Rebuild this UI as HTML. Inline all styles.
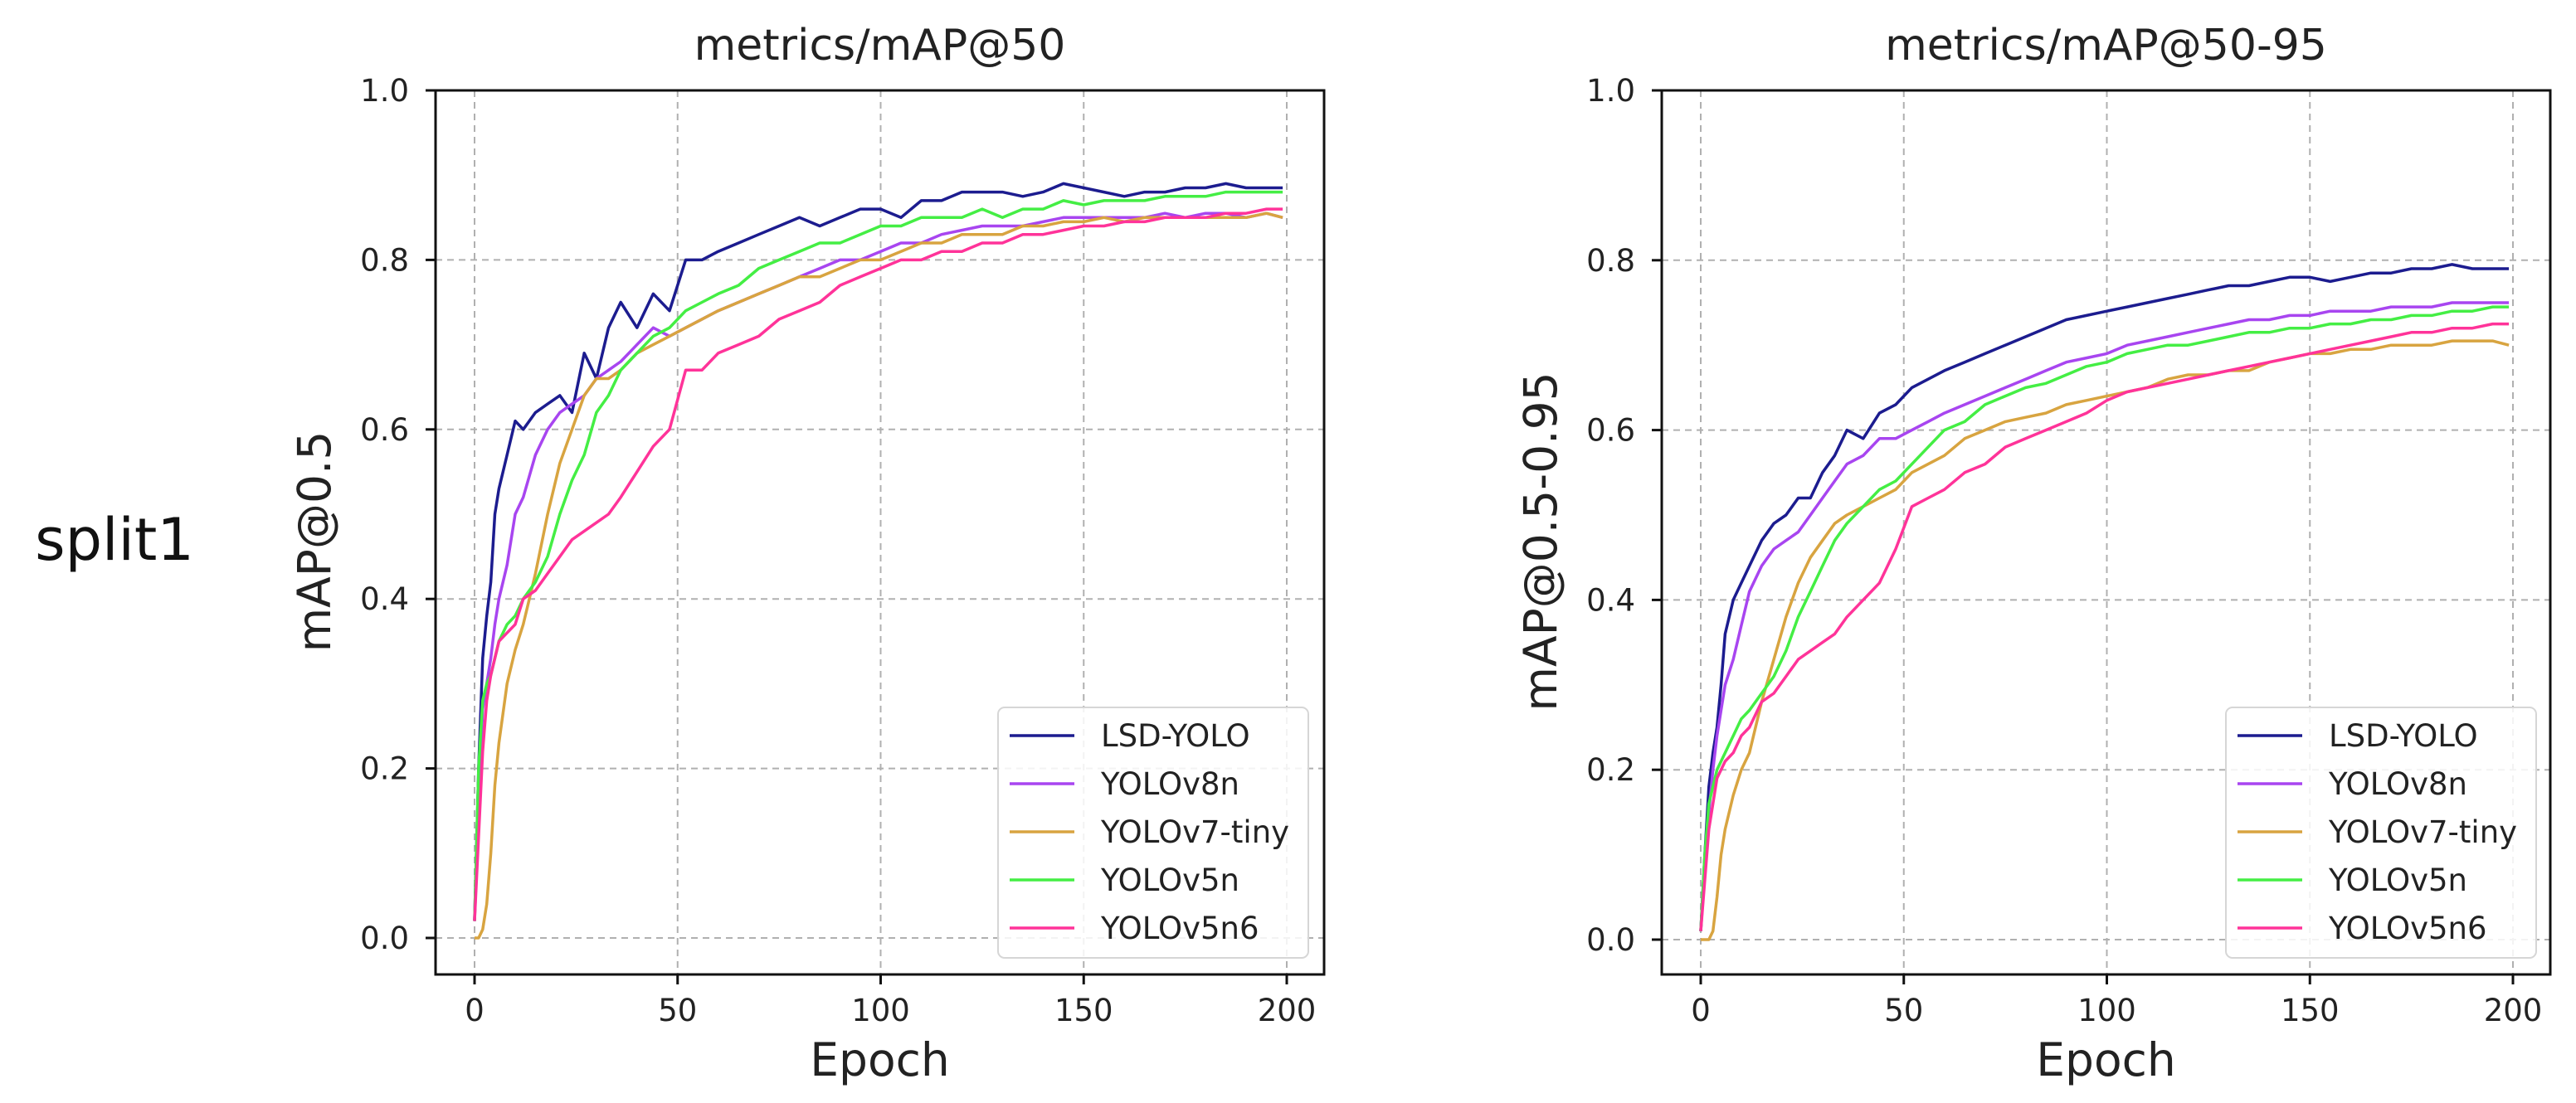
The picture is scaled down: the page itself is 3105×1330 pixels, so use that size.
<!DOCTYPE html>
<html><head><meta charset="utf-8">
<style>
html,body{margin:0;padding:0;background:#fff;}
svg{display:block;font-family:"DejaVu Sans","Liberation Sans",sans-serif;}
</style></head>
<body>
<svg id="fig" width="3105" height="1330" viewBox="0 0 3105 1330" xmlns="http://www.w3.org/2000/svg">
<text x="138" y="675" font-size="70" text-anchor="middle" fill="#111">split1</text>
</svg>
<script>
const epochs=[0,1,2,3,4,5,6,8,10,12,15,18,21,24,27,30,33,36,40,44,48,52,56,60,65,70,75,80,85,90,95,100,105,110,115,120,125,130,135,140,145,150,155,160,165,170,175,180,185,190,195,199];
const seriesNames=["LSD-YOLO","YOLOv8n","YOLOv7-tiny","YOLOv5n","YOLOv5n6"];
const xTicks=[0,50,100,150,200];
const yTicks=[0.0,0.2,0.4,0.6,0.8,1.0];
const map50_lsd=[0.02,0.2,0.33,0.38,0.42,0.5,0.53,0.57,0.61,0.6,0.62,0.63,0.64,0.62,0.69,0.66,0.72,0.75,0.72,0.76,0.74,0.8,0.8,0.81,0.82,0.83,0.84,0.85,0.84,0.85,0.86,0.86,0.85,0.87,0.87,0.88,0.88,0.88,0.875,0.88,0.89,0.885,0.88,0.875,0.88,0.88,0.885,0.885,0.89,0.885,0.885,0.885];
const map50_v8=[0.02,0.15,0.27,0.3,0.33,0.37,0.4,0.44,0.5,0.52,0.57,0.6,0.62,0.63,0.64,0.66,0.67,0.68,0.7,0.72,0.71,0.72,0.73,0.74,0.75,0.76,0.77,0.78,0.79,0.8,0.8,0.81,0.82,0.82,0.83,0.835,0.84,0.84,0.84,0.845,0.85,0.85,0.85,0.85,0.85,0.855,0.85,0.855,0.855,0.85,0.855,0.85];
const map50_v7=[0,0,0.01,0.04,0.1,0.18,0.23,0.3,0.34,0.37,0.43,0.5,0.56,0.6,0.64,0.66,0.66,0.67,0.69,0.7,0.71,0.72,0.73,0.74,0.75,0.76,0.77,0.78,0.78,0.79,0.8,0.8,0.81,0.82,0.82,0.83,0.83,0.83,0.84,0.84,0.845,0.845,0.85,0.845,0.85,0.85,0.85,0.85,0.85,0.85,0.855,0.85];
const map50_v5=[0.02,0.2,0.28,0.3,0.31,0.33,0.35,0.37,0.38,0.4,0.42,0.45,0.5,0.54,0.57,0.62,0.64,0.67,0.69,0.71,0.72,0.74,0.75,0.76,0.77,0.79,0.8,0.81,0.82,0.82,0.83,0.84,0.84,0.85,0.85,0.85,0.86,0.85,0.86,0.86,0.87,0.865,0.87,0.87,0.87,0.875,0.875,0.875,0.88,0.88,0.88,0.88];
const map50_v5n6=[0.02,0.12,0.22,0.28,0.31,0.33,0.35,0.36,0.37,0.4,0.41,0.43,0.45,0.47,0.48,0.49,0.5,0.52,0.55,0.58,0.6,0.67,0.67,0.69,0.7,0.71,0.73,0.74,0.75,0.77,0.78,0.79,0.8,0.8,0.81,0.81,0.82,0.82,0.83,0.83,0.835,0.84,0.84,0.845,0.845,0.85,0.85,0.85,0.855,0.855,0.86,0.86];
const map95_lsd=[0.01,0.1,0.18,0.22,0.25,0.3,0.36,0.4,0.42,0.44,0.47,0.49,0.5,0.52,0.52,0.55,0.57,0.6,0.59,0.62,0.63,0.65,0.66,0.67,0.68,0.69,0.7,0.71,0.72,0.73,0.735,0.74,0.745,0.75,0.755,0.76,0.765,0.77,0.77,0.775,0.78,0.78,0.775,0.78,0.785,0.785,0.79,0.79,0.795,0.79,0.79,0.79];
const map95_v8=[0.01,0.08,0.15,0.2,0.24,0.27,0.3,0.33,0.37,0.41,0.44,0.46,0.47,0.48,0.5,0.52,0.54,0.56,0.57,0.59,0.59,0.6,0.61,0.62,0.63,0.64,0.65,0.66,0.67,0.68,0.685,0.69,0.7,0.705,0.71,0.715,0.72,0.725,0.73,0.73,0.735,0.735,0.74,0.74,0.74,0.745,0.745,0.745,0.75,0.75,0.75,0.75];
const map95_v7=[0,0,0,0.01,0.05,0.1,0.13,0.17,0.2,0.22,0.28,0.33,0.38,0.42,0.45,0.47,0.49,0.5,0.51,0.52,0.53,0.55,0.56,0.57,0.59,0.6,0.61,0.615,0.62,0.63,0.635,0.64,0.645,0.65,0.66,0.665,0.665,0.67,0.67,0.68,0.685,0.69,0.69,0.695,0.695,0.7,0.7,0.7,0.705,0.705,0.705,0.7];
const map95_v5=[0.01,0.1,0.16,0.18,0.2,0.21,0.22,0.24,0.26,0.27,0.29,0.31,0.34,0.38,0.41,0.44,0.47,0.49,0.51,0.53,0.54,0.56,0.58,0.6,0.61,0.63,0.64,0.65,0.655,0.665,0.675,0.68,0.69,0.695,0.7,0.7,0.705,0.71,0.715,0.715,0.72,0.72,0.725,0.725,0.73,0.73,0.735,0.735,0.74,0.74,0.745,0.745];
const map95_v5n6=[0.01,0.07,0.13,0.16,0.19,0.2,0.21,0.22,0.24,0.25,0.28,0.29,0.31,0.33,0.34,0.35,0.36,0.38,0.4,0.42,0.46,0.51,0.52,0.53,0.55,0.56,0.58,0.59,0.6,0.61,0.62,0.635,0.645,0.65,0.655,0.66,0.665,0.67,0.675,0.68,0.685,0.69,0.695,0.7,0.705,0.71,0.715,0.715,0.72,0.72,0.725,0.725];
const colors=["#1c1c8f","#a845f0","#d8a440","#44ee44","#ff3399"];
const NS="http://www.w3.org/2000/svg";
const svg=document.getElementById('fig');
function mk(tag,attrs,parent){const e=document.createElementNS(NS,tag);for(const k in attrs)e.setAttribute(k,attrs[k]);(parent||svg).appendChild(e);return e;}

function drawPanel(p){
  const g=mk('g',{});
  
  
  const xs=v=>p.x0+(v-0)*(p.x200-p.x0)/200;
  const ys=v=>p.y0+(v-0)*(p.y1-p.y0)/1;
  xTicks.forEach(t=>{const l=mk('line',{x1:xs(t),x2:xs(t),y1:p.top,y2:p.bottom,stroke:'#b0b0b0','stroke-width':2,'stroke-dasharray':'8,6'},g);
    
    });
  yTicks.forEach(t=>{const l=mk('line',{x1:p.left,x2:p.right,y1:ys(t),y2:ys(t),stroke:'#b0b0b0','stroke-width':2,'stroke-dasharray':'8,6'},g);
    
    });
  p.series.forEach((s,i)=>{
    const d=epochs.map((e,j)=>(j?'L':'M')+xs(e).toFixed(1)+','+ys(s[j]).toFixed(1)).join(' ');
    const path=mk('path',{d:d,fill:'none',stroke:colors[i],'stroke-width':3.5,'stroke-linejoin':'round'},g);
    
    
  });
  const fr=mk('rect',{x:p.left,y:p.top,width:p.right-p.left,height:p.bottom-p.top,fill:'none',stroke:'#111','stroke-width':3},g);
  
  
  xTicks.forEach(t=>{mk('line',{x1:xs(t),x2:xs(t),y1:p.bottom,y2:p.bottom+12,stroke:'#111','stroke-width':3},g);
    const tx=mk('text',{x:xs(t),y:1231,'font-size':37,'text-anchor':'middle',fill:'#222'},g);
    tx.textContent=t;
    
    });
  yTicks.forEach(t=>{mk('line',{x1:p.left-12,x2:p.left,y1:ys(t),y2:ys(t),stroke:'#111','stroke-width':3},g);
    const tx=mk('text',{x:p.left-32,y:ys(t)+13,'font-size':37,'text-anchor':'end',fill:'#222'},g);
    tx.textContent=t.toFixed(1);
    
    });
  const ti=mk('text',{x:(p.left+p.right)/2,y:72,'font-size':52,'text-anchor':'middle',fill:'#222'},g);
  ti.textContent=p.title;
  
  
  const xl=mk('text',{x:(p.left+p.right)/2,y:1297,'font-size':55,'text-anchor':'middle',fill:'#222'},g);
  xl.textContent='Epoch';
  
  
  const yl=mk('text',{x:0,y:0,'font-size':55,'text-anchor':'middle',fill:'#222',transform:'translate('+p.ylx+',653) rotate(-90)'},g);
  yl.textContent=p.ylabel;
  
  
  const lg=mk('g',{},g);
  
  
  mk('rect',{x:p.legX,y:853,width:374,height:302,rx:8,fill:'#fff','fill-opacity':0.85,stroke:'#d6d6d6','stroke-width':2},lg);
  seriesNames.forEach((n,i)=>{
    const yy=887+i*58;
    const e=mk('g',{},lg);
    
    
    mk('line',{x1:p.legX+14,x2:p.legX+92,y1:yy,y2:yy,stroke:colors[i],'stroke-width':3.5},e);
    const t=mk('text',{x:p.legX+124,y:yy+13,'font-size':37,fill:'#222'},e);
    t.textContent=n;
  });
}
drawPanel({name:'panel-map50',left:525,right:1596,top:109,bottom:1175,x0:572,x200:1551,y0:1131,y1:109,
  title:'metrics/mAP@50',ylabel:'mAP@0.5',ylx:398,legX:1203,
  series:[map50_lsd,map50_v8,map50_v7,map50_v5,map50_v5n6]});
drawPanel({name:'panel-map50-95',left:2003,right:3074,top:109,bottom:1175,x0:2050,x200:3029,y0:1133,y1:109,
  title:'metrics/mAP@50-95',ylabel:'mAP@0.5-0.95',ylx:1876,legX:2683,
  series:[map95_lsd,map95_v8,map95_v7,map95_v5,map95_v5n6]});
</script>
</body></html>
